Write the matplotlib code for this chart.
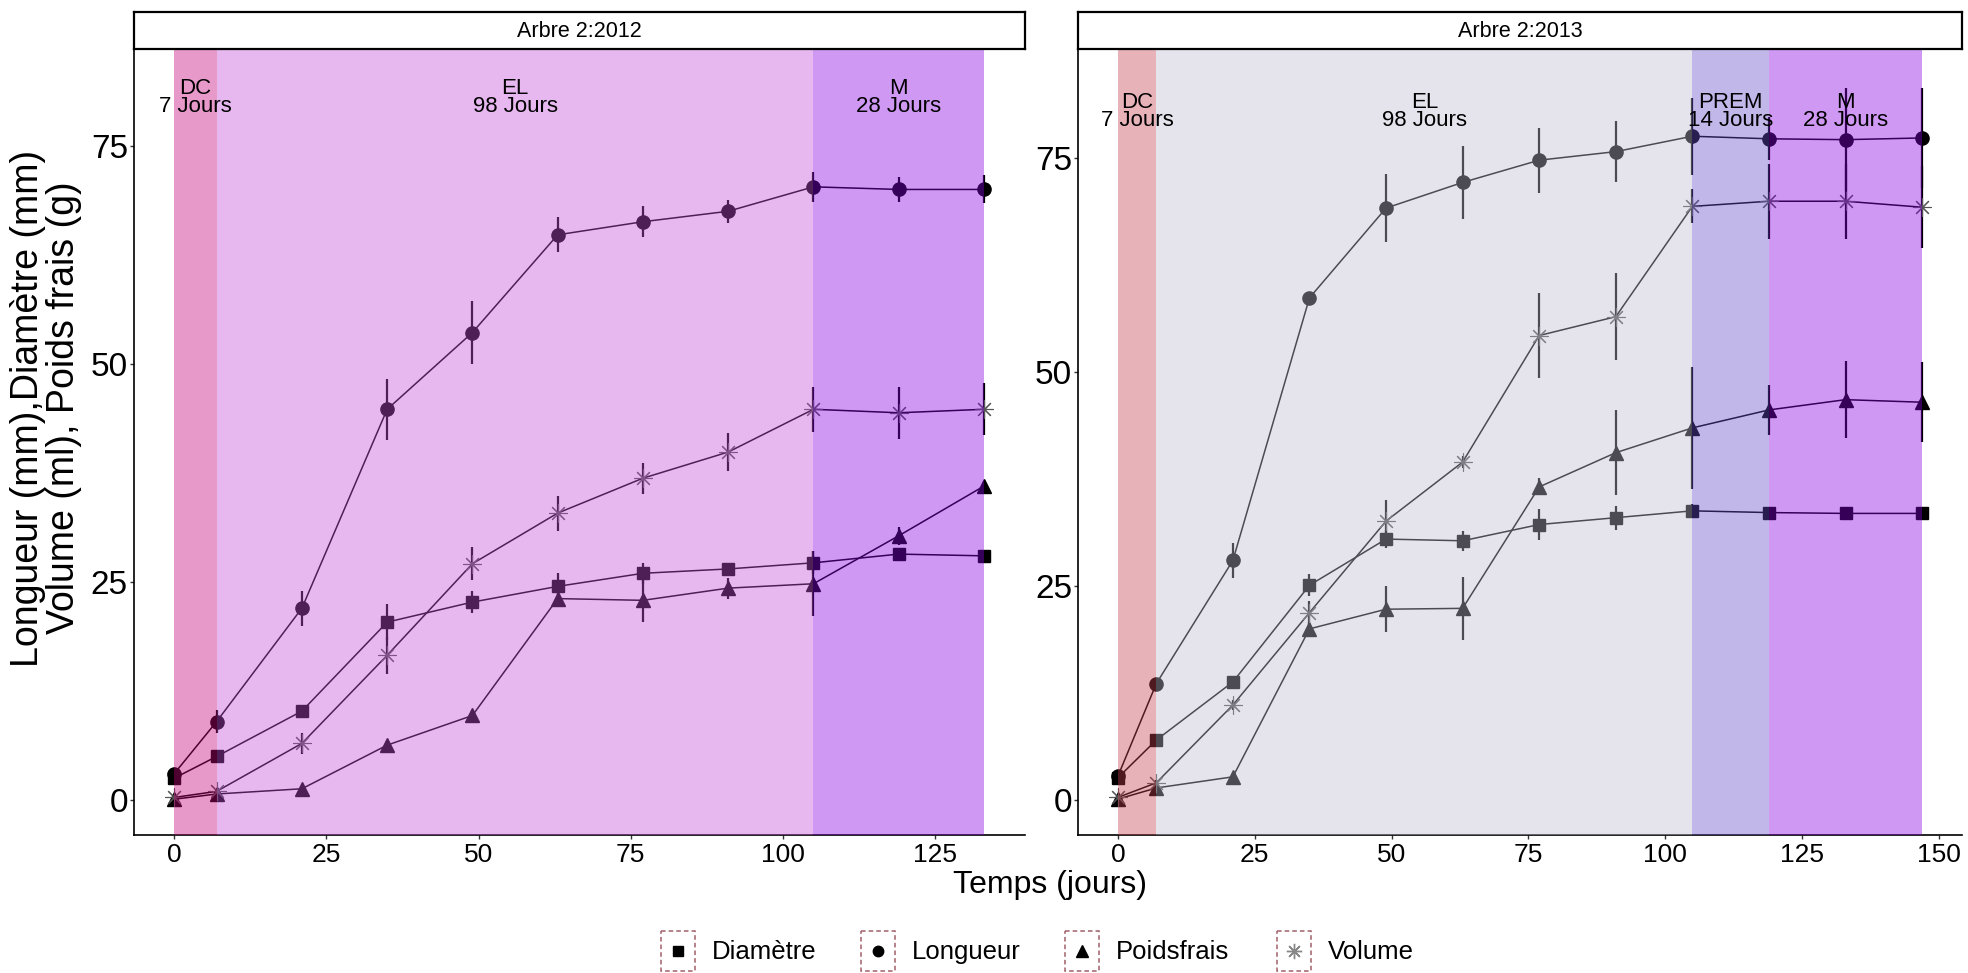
import matplotlib
matplotlib.use('Agg')
import matplotlib.pyplot as plt
from matplotlib.patches import Rectangle

plt.rcParams['font.family'] = ['Liberation Sans', 'DejaVu Sans']

# ---- donnees ----
jours_2012 = [0, 7, 21, 35, 49, 63, 77, 91, 105, 119, 133]
longueur_2012 = [3.0, 9.0, 22.0, 44.8, 53.6, 64.8, 66.3, 67.5, 70.3, 70.0, 70.0]
longueur_2012_err = [0.3, 1.3, 2.0, 3.5, 3.6, 2.0, 1.8, 1.3, 1.7, 1.4, 1.6]
diametre_2012 = [2.5, 5.0, 10.2, 20.4, 22.7, 24.5, 26.0, 26.5, 27.2, 28.2, 28.0]
diametre_2012_err = [0.2, 0.4, 0.6, 2.1, 1.3, 1.5, 1.2, 0.7, 1.3, 0.5, 0.4]
poids_2012 = [0.1, 0.7, 1.3, 6.3, 9.7, 23.1, 22.9, 24.3, 24.8, 30.3, 36.0]
poids_2012_err = [0.1, 0.3, 0.4, 0.5, 0.6, 0.8, 2.5, 1.2, 3.7, 1.0, 0.6]
volume_2012 = [0.3, 1.0, 6.5, 16.6, 27.1, 32.9, 36.9, 39.9, 44.8, 44.4, 44.8]
volume_2012_err = [0.1, 0.3, 1.2, 2.1, 1.9, 2.0, 1.8, 2.2, 2.6, 3.0, 3.0]

jours_2013 = [0, 7, 21, 35, 49, 63, 77, 91, 105, 119, 133, 147]
longueur_2013 = [2.8, 13.6, 28.0, 58.7, 69.2, 72.2, 74.8, 75.8, 77.6, 77.3, 77.2, 77.4]
longueur_2013_err = [0.3, 0.4, 2.0, 0.6, 4.0, 4.3, 3.8, 3.6, 4.5, 2.5, 6.0, 5.8]
diametre_2013 = [2.6, 7.0, 13.8, 25.1, 30.5, 30.3, 32.2, 33.0, 33.8, 33.6, 33.5, 33.5]
diametre_2013_err = [0.2, 0.3, 0.6, 1.3, 1.1, 1.2, 1.8, 1.4, 0.8, 0.5, 0.4, 0.4]
poids_2013 = [0.1, 1.4, 2.7, 20.0, 22.3, 22.4, 36.6, 40.6, 43.5, 45.6, 46.8, 46.5]
poids_2013_err = [0.1, 0.3, 0.4, 0.8, 2.7, 3.7, 1.0, 5.0, 7.1, 2.9, 4.5, 4.7]
volume_2013 = [0.3, 2.0, 11.1, 21.9, 32.6, 39.5, 54.3, 56.5, 69.4, 70.0, 70.0, 69.3]
volume_2013_err = [0.1, 0.3, 0.6, 1.4, 2.5, 0.7, 5.0, 5.1, 2.0, 4.4, 4.4, 4.8]

# phases : nom, debut, fin
phases_2012 = [('DC', 0, 7), ('EL', 7, 105), ('M', 105, 133)]
phases_2013 = [('DC', 0, 7), ('EL', 7, 105), ('PREM', 105, 119), ('M', 119, 147)]
couleurs_2012 = ['#C5007A', '#C54DD9', '#8700E1']
couleurs_2013 = ['#C54352', '#C0BBCF', '#664DCA', '#8900E1']

series_noms = ['Diamètre', 'Longueur', 'Poidsfrais', 'Volume']

W, H = 1968, 973
fig = plt.figure(figsize=(W / 100, H / 100), dpi=100)


def fx(px):
    return px / W


def fy(py):
    return 1 - py / H


styles = {
    'Diamètre': dict(marker='s', ms=8.5, mew=1.0, mc='black'),
    'Longueur': dict(marker='o', ms=9.5, mew=1.0, mc='black'),
    'Poidsfrais': dict(marker='^', ms=10, mew=1.0, mc='black'),
    'Volume': dict(marker=(8, 2, 0), ms=13, mew=0.8, mc='#555555'),
}

panels = [
    dict(titre='Arbre 2:2012', x0=133.5, x1=1024.5, xlim=(-6.65, 139.65), ylim=(-4.0, 86.1),
         xticks=[0, 25, 50, 75, 100, 125], jours=jours_2012,
         data={'Diamètre': (diametre_2012, diametre_2012_err),
               'Longueur': (longueur_2012, longueur_2012_err),
               'Poidsfrais': (poids_2012, poids_2012_err),
               'Volume': (volume_2012, volume_2012_err)},
         phases=phases_2012, couleurs=couleurs_2012),
    dict(titre='Arbre 2:2013', x0=1077.8, x1=1962.3, xlim=(-7.35, 154.35), ylim=(-4.1, 87.8),
         xticks=[0, 25, 50, 75, 100, 125, 150], jours=jours_2013,
         data={'Diamètre': (diametre_2013, diametre_2013_err),
               'Longueur': (longueur_2013, longueur_2013_err),
               'Poidsfrais': (poids_2013, poids_2013_err),
               'Volume': (volume_2013, volume_2013_err)},
         phases=phases_2013, couleurs=couleurs_2013),
]

top, bottom, strip_top = 49, 835, 12

for p in panels:
    ax = fig.add_axes([fx(p['x0']), fy(bottom), fx(p['x1'] - p['x0']), (bottom - top) / H])
    x = p['jours']
    for nom in series_noms:
        y, e = p['data'][nom]
        ax.vlines(x, [a - b for a, b in zip(y, e)], [a + b for a, b in zip(y, e)],
                  color='black', lw=1.6, zorder=2)
        st = styles[nom]
        ax.plot(x, y, color='black', lw=1.1, zorder=3, marker=st['marker'], ms=st['ms'],
                mew=st['mew'], mfc=st['mc'], mec=st['mc'])
    # bandes de phases par-dessus (transparentes)
    for (nom, d, f), c in zip(p['phases'], p['couleurs']):
        ax.axvspan(d, f, color=c, alpha=0.4, lw=0, zorder=5)
        ax.text((d + f) / 2, 80.5, '{}\n{} Jours'.format(nom, f - d), ha='center', va='center',
                fontsize=16, linespacing=0.8, zorder=6)
    ax.set_xlim(*p['xlim'])
    ax.set_ylim(*p['ylim'])
    ax.set_xticks(p['xticks'])
    ax.set_yticks([0, 25, 50, 75])
    for s in ['top', 'right']:
        ax.spines[s].set_visible(False)
    for s in ['left', 'bottom']:
        ax.spines[s].set_linewidth(1.2)
    ax.tick_params(axis='both', direction='out', length=3, width=1, color='#333333')
    ax.tick_params(axis='x', labelsize=19, pad=3)
    ax.tick_params(axis='y', labelsize=24, pad=1)
    ax.set_facecolor('white')

    # bandeau du titre
    sax = fig.add_axes([fx(p['x0']), fy(top), fx(p['x1'] - p['x0']), (top - strip_top) / H])
    sax.set_xticks([])
    sax.set_yticks([])
    for s in sax.spines.values():
        s.set_linewidth(1.6)
    sax.text(0.5, 0.48, p['titre'], ha='center', va='center', fontsize=15.5, transform=sax.transAxes)

# titres des axes
fig.text(fx(46), fy(408), 'Longueur (mm),Diamètre (mm)\nVolume (ml), Poids frais (g)',
         rotation=90, ha='center', va='center', fontsize=27, linespacing=1.0)
fig.text(fx(1050), fy(893), 'Temps (jours)', ha='center', va='baseline', fontsize=23)

# legende dessinee a la main
lax = fig.add_axes([0, 0, 1, 1])
lax.set_xlim(0, W)
lax.set_ylim(H, 0)
lax.axis('off')
lax.patch.set_visible(False)
cles_x = [678, 878, 1082, 1294]
textes_x = [712, 912, 1116, 1328]
leg_styles = [dict(marker='s', ms=7, color='black'), dict(marker='o', ms=7.5, color='black'),
              dict(marker='^', ms=8.5, color='black'), dict(marker=(8, 2, 0), ms=11, color='#888888')]
for cx, tx, nom, st in zip(cles_x, textes_x, series_noms, leg_styles):
    lax.add_patch(Rectangle((cx - 17, 931), 34, 40, fill=False, ls=(0, (3, 2)), lw=1.1,
                            edgecolor='#A0606A'))
    lax.plot([cx], [951], ls='none', marker=st['marker'], ms=st['ms'], color=st['color'], mew=1)
    lax.text(tx, 952, nom, ha='left', va='center', fontsize=18.5)

fig.savefig('out.png', dpi=100, facecolor='white')
